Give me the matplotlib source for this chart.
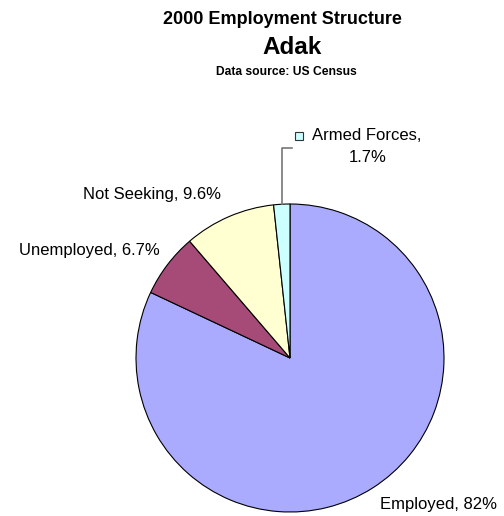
import numpy as np
import matplotlib
matplotlib.use("Agg")
import matplotlib.pyplot as plt

# ---------------------------------
# Data
# ---------------------------------
categories = ["Employed", "Unemployed", "Not Seeking", "Armed Forces"]
shares = [82, 6.7, 9.6, 1.7]
colors = ["#AAAAFF", "#A64A78", "#FFFFD2", "#CCFFFF"]

title = "2000 Employment Structure"
place = "Adak"
source = "Data source: US Census"

W, H = 504, 516
plt.rcParams["font.family"] = ["Liberation Sans", "DejaVu Sans"]

fig = plt.figure(figsize=(W / 100, H / 100), dpi=100)
ax = fig.add_axes([0, 0, 1, 1])

cx, cy, r = 290, H - 358, 154
wedges, _ = ax.pie(shares, colors=colors, startangle=90, counterclock=False,
                   center=(cx, cy), radius=r,
                   wedgeprops=dict(edgecolor="black", linewidth=0.8))

ax.set_xlim(0, W)
ax.set_ylim(0, H)
ax.set_aspect("equal")
ax.axis("off")

def py(y):
    # pixel row (from top) -> data y
    return H - y

# titles
ax.text(282, py(20), title, ha="center", va="center", fontsize=13, fontweight="bold")
ax.text(292, py(47), place, ha="center", va="center", fontsize=17.5, fontweight="bold")
ax.text(286, py(72), source, ha="center", va="center", fontsize=8.7, fontweight="bold")

labels = [f"{c}, {v:g}%" for c, v in zip(categories, shares)]
lab_kw = dict(ha="center", va="center", fontsize=12)
ax.text(438, py(505), labels[0], **lab_kw)
ax.text(89, py(250), labels[1], **lab_kw)
ax.text(152, py(195), labels[2], **lab_kw)

# Armed Forces label with leader line and legend key
ax.text(367, py(135), categories[3] + ",", **lab_kw)
ax.text(368, py(157), f"{shares[3]:g}%", **lab_kw)
w = wedges[3]
mid = np.deg2rad((w.theta1 + w.theta2) / 2)
ex, ey = cx + r * np.cos(mid), cy + r * np.sin(mid)
ax.plot([ex, ex, ex + 10], [ey, py(148), py(148)], color="#777777", lw=1.2)
ax.plot([299], [py(136)], marker="s", markersize=5.5, mfc=colors[3], mec="#333333", mew=0.8)

fig.savefig("out.png", dpi=100)
